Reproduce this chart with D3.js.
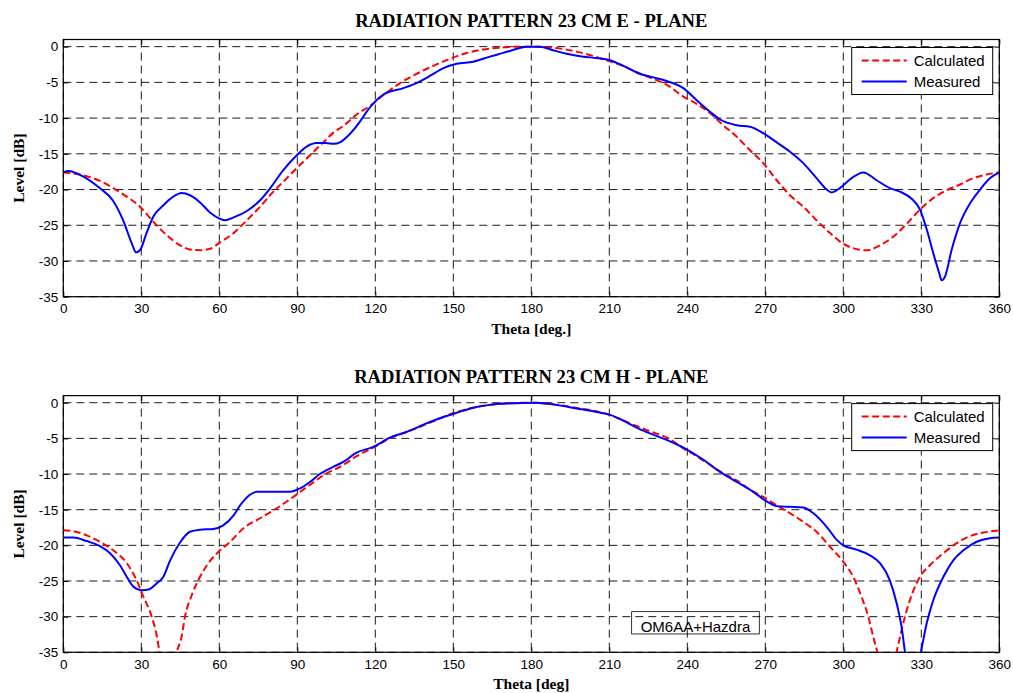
<!DOCTYPE html>
<html>
<head>
<meta charset="utf-8">
<script src="https://cdn.jsdelivr.net/npm/d3@7"></script>
<style>
  body { margin: 0; background: #fff; }
  svg { display: block; }
  .tick text { font-family: "Liberation Sans", Arial, sans-serif; font-size: 13.5px; fill: #000; }
  .title, .axlabel { font-family: "Liberation Serif", "Times New Roman", serif; font-weight: bold; fill: #000; }
  .legend text, .note text { font-family: "Liberation Sans", Arial, sans-serif; font-size: 15px; fill: #000; }
</style>
</head>
<body>
<svg id="chart" width="1013" height="693"></svg>
<script>
// tick values
var thetaTicks = [0, 30, 60, 90, 120, 150, 180, 210, 240, 270, 300, 330, 360];
var levelTicks = [0, -5, -10, -15, -20, -25, -30, -35];
var seriesNames = ["Calculated", "Measured"];

// E - plane, [theta deg, level dB]
var eCalculated = [[0,-17.6],[6.4,-17.9],[14.1,-18.8],[19.2,-19.8],[24.4,-21],[29.5,-22.4],[34.6,-24.5],[39.8,-26.4],[44.9,-27.8],[48.7,-28.4],[52.6,-28.5],[56.4,-28.3],[60.3,-27.4],[65.5,-26.1],[70.6,-24.3],[75.7,-22.4],[80.8,-20.3],[86,-18.4],[89.8,-17],[94.9,-15.2],[100,-13.4],[104,-12],[107.7,-11.1],[112.8,-9.5],[117.9,-8.3],[123.1,-6.8],[129.5,-5.1],[135.9,-3.8],[142.3,-2.7],[148.7,-1.7],[155.1,-0.9],[161.5,-0.4],[169.2,-0.1],[176.9,0],[182,0],[189.7,-0.2],[197.4,-0.7],[203.8,-1.3],[209,-1.9],[215.4,-2.7],[221.8,-3.8],[226.9,-4.5],[232,-5.3],[238.5,-7],[243.6,-8],[248.7,-9.3],[253.8,-11],[259,-12.6],[264.1,-14.5],[269.2,-16.3],[274.4,-18.7],[279.5,-20.8],[284.6,-22.4],[289.7,-24.3],[294.9,-26.1],[300,-27.6],[303.8,-28.2],[309,-28.5],[314.1,-27.8],[319.2,-26.6],[324.4,-24.8],[329.5,-22.8],[334.6,-21.2],[339.7,-20.1],[344.9,-19.3],[350,-18.4],[355.1,-17.9],[360,-17.6]];
var eMeasured = [[0,-17.6],[2,-17.4],[7.7,-18.2],[14,-19.8],[19,-21.5],[23,-24.3],[26.3,-27.5],[28,-28.8],[29.5,-28.5],[32,-26.1],[34.6,-23.8],[38.5,-22.2],[42.3,-21],[45.5,-20.5],[48.7,-20.8],[52.6,-21.8],[56.4,-23.2],[60.3,-24.1],[62.2,-24.3],[65.5,-23.9],[70.6,-23],[75.7,-21.5],[79.6,-19.8],[84.6,-17.3],[89.8,-15.2],[93.6,-14],[97.5,-13.5],[101,-13.5],[104,-13.6],[106.4,-13.4],[110.3,-12.2],[114.1,-10.5],[116.7,-9.1],[119.9,-7.7],[123.1,-6.7],[130.8,-5.8],[135.9,-5.1],[141,-4.1],[146.2,-3],[151.3,-2.4],[157.7,-2.1],[164.1,-1.4],[171.8,-0.6],[178.2,0],[183.3,0],[188.4,-0.5],[193.6,-1],[200,-1.4],[205.1,-1.6],[210.3,-1.9],[215.4,-2.7],[221.8,-3.8],[226.9,-4.3],[232,-4.8],[238.5,-5.8],[243.6,-7.5],[248.7,-9.1],[252.6,-10.2],[259,-11],[264.1,-11.2],[269.2,-12.1],[274.4,-13.4],[279.5,-14.7],[284.6,-16.3],[289.7,-18.4],[293.6,-20],[295.5,-20.4],[298.7,-19.8],[303.2,-18.4],[307.7,-17.6],[312.8,-18.7],[317.9,-19.8],[321.8,-20.3],[326.3,-21.3],[329.5,-22.8],[332.1,-25.6],[334.6,-28.9],[336.9,-31.7],[337.8,-32.7],[339.1,-32.2],[341.7,-28.4],[344.9,-24.7],[348.8,-21.9],[352.6,-20],[356.5,-18.4],[360,-17.6]];

// H - plane, [theta deg, level dB]
var hCalculated = [[0,-17.9],[3.8,-18],[9,-18.6],[14.1,-19.5],[19.2,-20.7],[24.4,-22.5],[28.2,-24.9],[30.8,-27.2],[34,-30],[36,-32.8],[37,-35],[40,-42],[43.6,-35],[45.5,-32.8],[46.8,-30],[49.4,-27],[52.6,-24.4],[55.8,-22.5],[59.7,-20.9],[64.2,-19.5],[69.3,-17.6],[75.7,-16.2],[82.1,-14.8],[88.5,-13.2],[94.9,-11.5],[101.3,-9.9],[106.4,-9],[112.8,-7.5],[119.2,-6.3],[125.6,-5],[132,-4.1],[139.7,-3],[146.2,-2],[151.3,-1.3],[157.7,-0.7],[164,-0.3],[172,-0.05],[180,0],[190,-0.3],[197,-0.7],[205,-1.2],[210,-1.7],[215,-2.4],[220,-3.2],[225.6,-4],[233.3,-5.1],[238.5,-6.4],[243.6,-7.5],[248.7,-8.7],[253.8,-9.9],[259,-10.9],[264.1,-12.2],[269.2,-13.2],[274.4,-14.4],[279.5,-15.5],[284.6,-16.7],[289.7,-18.1],[294.9,-20.2],[300,-22.3],[303.8,-24.4],[307,-27.2],[309.6,-30],[311.5,-32.8],[313.1,-35],[317,-42],[320.5,-35],[322.4,-31.9],[324.4,-29.1],[327,-26.3],[329.5,-24.4],[333.3,-22.8],[338.5,-21.1],[343.6,-19.7],[348.8,-18.7],[353.9,-18.2],[360,-17.9]];
var hMeasured = [[0,-18.9],[3.8,-18.9],[9,-19.4],[14.1,-20.1],[18,-21.1],[21.8,-22.8],[24.4,-24.4],[27,-25.8],[30.2,-26.3],[32.8,-26.2],[36,-25.3],[38.5,-24.4],[41.1,-22.1],[44.9,-19.6],[48.7,-18.1],[52.6,-17.8],[57.7,-17.7],[61.5,-17.2],[65.5,-15.8],[68,-14.4],[71.8,-12.9],[74.4,-12.5],[82.1,-12.5],[87.2,-12.5],[91.1,-12],[94.9,-11.1],[98.7,-10],[103.8,-9],[107.7,-8.3],[112.8,-7],[119.2,-6.2],[125.6,-4.9],[132,-4.1],[139.7,-2.9],[146.2,-2],[151.3,-1.4],[157.7,-0.7],[164.1,-0.3],[171.8,-0.1],[182,0],[189.7,-0.3],[197.4,-0.8],[205.1,-1.3],[210.3,-1.7],[215.4,-2.5],[220.5,-3.5],[225.6,-4.3],[232,-5.2],[238.5,-6.3],[246.2,-8],[252.6,-9.7],[259,-11.1],[265.4,-12.5],[269.9,-13.7],[274.4,-14.5],[279.5,-14.6],[284.6,-14.7],[288.5,-15.5],[293.6,-17.4],[297.4,-19.2],[300,-20],[305.1,-20.6],[310.3,-21.4],[314.1,-22.5],[317.9,-24.9],[320.5,-28.1],[322.4,-31.4],[323.7,-34.9],[326.5,-40],[329.8,-35],[332.1,-30.9],[334.6,-27.7],[338.5,-24.4],[342.3,-22.1],[346.2,-20.7],[351.3,-19.5],[356.4,-19],[360,-18.9]];

var svg = d3.select("#chart");
var fmt = d => String(d);   // plain hyphen, like matlab

var x = d3.scaleLinear().domain([0, 360]).range([63.3, 999.3]);

function panel(p) {
    var y = d3.scaleLinear().domain([-35, 1]).range([p.bottom, p.top]);
    var g = svg.append("g");
    var x0 = x.range()[0], x1 = x.range()[1];

    svg.append("clipPath").attr("id", "clip" + p.id)
        .append("rect")
        .attr("x", x0).attr("y", p.top)
        .attr("width", x1 - x0).attr("height", p.bottom - p.top);

    // grid
    g.append("g").selectAll("line").data(thetaTicks).join("line")
        .attr("x1", d => x(d)).attr("x2", d => x(d))
        .attr("y1", p.top).attr("y2", p.bottom)
        .attr("stroke", "#000").attr("stroke-width", 0.9)
        .attr("stroke-dasharray", "8,5");
    g.append("g").selectAll("line").data(levelTicks).join("line")
        .attr("x1", x0).attr("x2", x1)
        .attr("y1", d => y(d)).attr("y2", d => y(d))
        .attr("stroke", "#000").attr("stroke-width", 0.9)
        .attr("stroke-dasharray", "8,5");

    // axes, ticks pointing inwards
    var left = g.append("g").attr("transform", `translate(${x0},0)`)
        .call(d3.axisLeft(y).tickValues(levelTicks).tickFormat(fmt).tickSize(-5).tickPadding(5));
    var bottom = g.append("g").attr("transform", `translate(0,${p.bottom})`)
        .call(d3.axisBottom(x).tickValues(thetaTicks).tickFormat(fmt).tickSize(-5).tickPadding(7));
    var right = g.append("g").attr("transform", `translate(${x1},0)`)
        .call(d3.axisRight(y).tickValues(levelTicks).tickFormat("").tickSize(-5));
    var top = g.append("g").attr("transform", `translate(0,${p.top})`)
        .call(d3.axisTop(x).tickValues(thetaTicks).tickFormat("").tickSize(-5));
    [left, bottom, right, top].forEach(a => {
        a.select(".domain").remove();
        a.selectAll(".tick line").attr("stroke", "#000");
    });

    g.append("rect")
        .attr("x", x0).attr("y", p.top)
        .attr("width", x1 - x0).attr("height", p.bottom - p.top)
        .attr("fill", "none").attr("stroke", "#000").attr("stroke-width", 1.2);

    // curves
    var line = d3.line()
        .x(d => x(d[0]))
        .y(d => y(d[1]))
        .curve(d3.curveMonotoneX);
    var lines = g.append("g").attr("clip-path", `url(#clip${p.id})`);
    lines.append("path").datum(p.calc)
        .attr("d", line).attr("fill", "none")
        .attr("stroke", "#ff0000").attr("stroke-width", 2)
        .attr("stroke-dasharray", "7,3.5");
    lines.append("path").datum(p.meas)
        .attr("d", line).attr("fill", "none")
        .attr("stroke", "#0000ff").attr("stroke-width", 2);

    // titles
    g.append("text").attr("class", "title")
        .attr("x", (x0 + x1) / 2).attr("y", p.top - 12.5)
        .attr("text-anchor", "middle").style("font-size", "18.6px")
        .text(p.title);
    g.append("text").attr("class", "axlabel")
        .attr("x", (x0 + x1) / 2).attr("y", p.bottom + 37)
        .attr("text-anchor", "middle").style("font-size", "15.5px")
        .text(p.xlabel);
    g.append("text").attr("class", "axlabel")
        .attr("transform", `translate(24,${(p.top + p.bottom) / 2}) rotate(-90)`)
        .attr("text-anchor", "middle").style("font-size", "15.5px")
        .text("Level [dB]");

    // legend
    var lg = g.append("g").attr("class", "legend")
        .attr("transform", `translate(${x1 - 147.6},${p.top + 8})`);
    lg.append("rect").attr("width", 141).attr("height", 47)
        .attr("fill", "#fff").attr("stroke", "#000").attr("stroke-width", 1);
    var row = lg.selectAll("g.row").data(seriesNames).join("g")
        .attr("class", "row")
        .attr("transform", (d, i) => `translate(0,${13 + i * 21})`);
    row.append("line")
        .attr("x1", 10).attr("x2", 55)
        .attr("stroke", (d, i) => i == 0 ? "#ff0000" : "#0000ff")
        .attr("stroke-width", 2)
        .attr("stroke-dasharray", (d, i) => i == 0 ? "7,3.5" : null);
    row.append("text").attr("x", 62).attr("y", 5.5).text(d => d);

    if (p.note) {
        var ng = g.append("g").attr("class", "note");
        var t = ng.append("text")
            .attr("x", x(p.note.theta) + 9).attr("y", y(p.note.level) + 20)
            .text(p.note.text);
        var w = t.node().getComputedTextLength();
        ng.insert("rect", "text")
            .attr("x", x(p.note.theta)).attr("y", y(p.note.level))
            .attr("width", w + 18).attr("height", 22.3)
            .attr("fill", "none").attr("stroke", "#000").attr("stroke-width", 0.8);
    }
}

panel({ id: "E", top: 39.5, bottom: 296.7, title: "RADIATION PATTERN 23 CM E - PLANE",
        xlabel: "Theta [deg.]", calc: eCalculated, meas: eMeasured });
panel({ id: "H", top: 395.6, bottom: 652.3, title: "RADIATION PATTERN 23 CM H - PLANE",
        xlabel: "Theta [deg]", calc: hCalculated, meas: hMeasured,
        note: { theta: 218.6, level: -29.3, text: "OM6AA+Hazdra" } });
</script>
</body>
</html>
